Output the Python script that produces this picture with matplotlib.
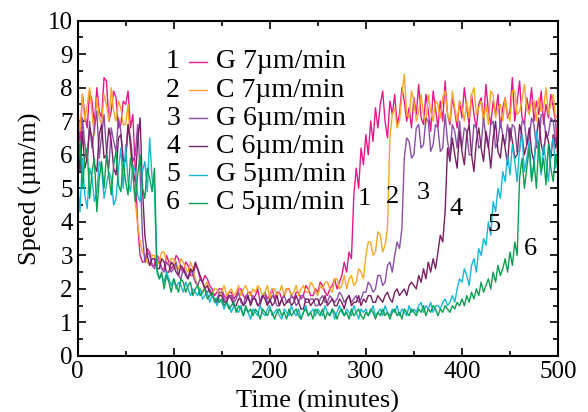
"""
Speed vs time for the six growth runs
"""

import numpy as np
import matplotlib
matplotlib.use("Agg")
import matplotlib.pyplot as plt
from matplotlib.ticker import MultipleLocator

plt.rcParams['font.family'] = ['Liberation Serif', 'DejaVu Serif']

## Data (2.5 minute steps)

time = np.arange(0, 500.1, 2.5)

labels = ["G 7µm/min", "C 7µm/min", "G 6µm/min", "C 6µm/min", "G 5µm/min", "C 5µm/min"]
colors = ["#e8178a", "#f9a825", "#8b4fa6", "#7a1f62", "#17b8d6", "#0aa050"]

g7 = [7.0, 6.4, 7.8, 7.2, 6.8, 7.9, 7.6, 6.9, 8.0, 7.3, 7.1, 8.3, 8.2, 7.0, 7.3, 7.9, 7.7, 6.8, 6.9, 7.6,
      7.5, 7.9, 6.8, 7.2, 5.5, 3.9, 3.0, 2.8, 2.8, 3.2, 3.1, 2.7, 2.7, 3.0, 2.9, 2.6, 2.6, 3.0, 2.8, 2.6,
      2.7, 3.0, 2.9, 2.6, 2.5, 2.8, 2.7, 2.4, 2.4, 2.7, 2.6, 2.3, 2.2, 2.4, 2.3, 2.1, 2.0, 1.8, 1.9, 2.0,
      2.0, 1.8, 1.7, 1.9, 1.9, 1.7, 1.8, 2.0, 2.0, 1.8, 1.7, 1.9, 1.9, 1.7, 1.8, 2.0, 1.6, 1.8, 1.9, 1.7,
      1.8, 2.0, 1.7, 1.9, 1.9, 1.7, 1.8, 2.0, 2.0, 1.8, 1.7, 1.9, 1.9, 1.7, 1.8, 2.1, 2.0, 1.8, 1.8, 2.0,
      1.9, 2.2, 2.1, 1.9, 1.8, 2.0, 2.1, 2.3, 2.0, 2.2, 2.4, 2.8, 2.5, 3.1, 2.9, 4.8, 5.6, 5.0, 6.2, 5.7,
      6.6, 6.0, 7.0, 6.4, 7.4, 6.8, 7.5, 7.9, 7.0, 6.5, 7.6, 7.2, 7.8, 6.9, 7.2, 8.0, 7.6, 7.0, 7.4, 6.8,
      7.7, 7.2, 8.1, 7.1, 6.9, 7.8, 7.3, 6.7, 7.9, 7.4, 6.8, 7.6, 7.0, 8.2, 7.2, 6.9, 7.7, 7.3, 6.8, 7.6,
      7.1, 8.0, 7.4, 6.9, 7.8, 7.2, 6.8, 7.5, 7.7, 7.0, 8.1, 7.3, 6.9, 7.6, 7.2, 7.8, 6.8, 7.4, 7.7, 7.1,
      7.3, 8.3, 7.0, 7.6, 8.2, 7.1, 6.9, 7.7, 7.3, 8.0, 7.0, 7.6, 7.2, 7.9, 6.9, 7.5, 7.1, 7.8, 7.4, 7.0,
      5.8]
c7 = [7.4, 6.7, 7.8, 7.0, 7.5, 8.0, 7.2, 6.6, 7.7, 7.1, 6.9, 7.8, 7.5, 7.0, 8.0, 7.3, 7.0, 7.6, 7.4, 6.9,
      6.9, 7.5, 6.2, 5.4, 4.6, 3.9, 3.4, 3.1, 3.0, 2.8, 2.7, 3.0, 3.0, 2.7, 2.8, 3.1, 3.1, 2.8, 2.7, 2.9,
      2.9, 2.6, 2.6, 2.9, 2.8, 2.6, 2.5, 2.8, 2.6, 2.3, 2.1, 2.0, 1.9, 2.1, 2.2, 1.9, 1.8, 2.0, 2.0, 1.8,
      1.9, 2.1, 1.8, 1.9, 2.0, 1.8, 1.9, 2.1, 1.8, 2.0, 2.1, 1.9, 1.8, 2.0, 1.9, 2.1, 2.0, 1.8, 1.9, 2.1,
      1.7, 2.0, 2.0, 1.8, 1.9, 2.1, 1.8, 2.0, 2.0, 1.8, 1.9, 2.1, 1.8, 2.0, 2.1, 1.9, 1.9, 2.2, 2.1, 1.9,
      1.8, 2.1, 2.0, 2.2, 2.2, 2.0, 1.9, 2.3, 2.3, 2.0, 2.1, 2.4, 2.0, 2.3, 2.4, 2.1, 2.2, 2.6, 2.5, 2.3,
      3.0, 3.4, 3.4, 3.0, 3.1, 3.7, 3.6, 3.1, 3.3, 3.8, 6.5, 7.2, 7.4, 6.8, 7.0, 7.8, 8.4, 7.2, 7.1, 7.9,
      7.6, 7.0, 7.3, 7.8, 7.2, 6.9, 7.8, 7.3, 7.0, 7.6, 7.5, 7.1, 7.7, 7.9, 7.2, 7.0, 7.9, 7.4, 7.0, 7.6,
      7.4, 7.0, 7.6, 7.1, 7.8, 8.0, 7.2, 7.4, 7.6, 7.0, 7.5, 6.9, 7.9, 7.8, 7.1, 7.4, 7.5, 7.0, 7.7, 7.2,
      7.0, 7.9, 7.9, 7.2, 7.3, 7.6, 8.1, 7.4, 7.2, 7.6, 7.6, 7.0, 7.7, 7.3, 7.4, 8.0, 7.2, 7.5, 7.8, 7.1,
      7.2]
g6 = [6.5, 5.7, 7.1, 6.3, 5.8, 7.0, 6.2, 6.8, 7.3, 5.9, 6.6, 7.2, 6.1, 5.6, 6.8, 6.4, 6.1, 7.1, 6.7, 5.8,
      5.9, 6.9, 6.5, 5.8, 6.0, 6.9, 5.5, 3.6, 2.8, 3.1, 3.0, 2.7, 2.6, 2.9, 2.8, 2.6, 2.5, 2.8, 2.7, 2.5,
      2.6, 2.8, 2.4, 2.3, 2.6, 2.5, 2.3, 2.6, 2.4, 2.2, 2.1, 2.3, 2.2, 2.0, 1.9, 2.0, 1.8, 1.7, 1.7, 1.9,
      1.9, 1.7, 1.6, 1.8, 1.8, 1.6, 1.7, 1.9, 1.6, 1.5, 1.8, 1.7, 1.6, 1.8, 1.7, 1.5, 1.5, 1.8, 1.8, 1.6,
      1.6, 1.8, 1.7, 1.5, 1.5, 1.7, 1.8, 1.6, 1.6, 1.8, 1.7, 1.5, 1.6, 1.8, 1.8, 1.6, 1.6, 1.7, 1.7, 1.5,
      1.5, 1.7, 1.8, 1.6, 1.6, 1.8, 1.7, 1.6, 1.7, 1.9, 1.8, 1.6, 1.7, 1.8, 1.6, 1.7, 1.8, 1.6, 1.7, 1.9,
      1.9, 2.2, 2.1, 1.9, 2.0, 2.4, 2.4, 2.1, 2.2, 2.7, 2.8, 2.5, 3.0, 3.4, 3.2, 3.8, 5.9, 6.5, 6.4, 5.9,
      6.0, 6.8, 6.9, 6.2, 6.3, 7.1, 7.0, 6.1, 6.3, 6.9, 6.8, 6.1, 6.2, 7.2, 6.4, 6.0, 6.9, 6.7, 6.2, 7.0,
      6.2, 6.8, 6.7, 6.0, 6.0, 6.9, 6.8, 6.2, 6.3, 7.1, 6.5, 6.2, 6.9, 7.0, 6.2, 6.4, 7.0, 6.6, 6.3, 6.9,
      6.4, 6.9, 6.8, 6.1, 6.1, 7.0, 7.0, 6.3, 6.5, 7.1, 6.9, 6.2, 6.3, 7.2, 7.2, 6.5, 6.6, 7.1, 7.0, 6.4,
      6.4]
c6 = [6.2, 5.5, 6.7, 5.6, 5.9, 6.8, 6.5, 5.7, 5.5, 6.6, 6.9, 5.9, 6.0, 6.8, 6.4, 5.6, 5.4, 6.5, 6.6, 5.8,
      5.8, 6.9, 6.3, 5.5, 5.2, 6.4, 7.1, 5.0, 3.6, 3.0, 2.7, 2.9, 2.9, 2.6, 2.6, 2.9, 2.8, 2.5, 2.5, 2.8,
      2.7, 2.5, 2.4, 2.7, 2.6, 2.4, 2.3, 2.6, 2.5, 2.8, 2.6, 2.4, 2.2, 2.0, 2.1, 1.9, 1.8, 1.7, 1.6, 1.8,
      1.8, 1.6, 1.6, 1.8, 1.7, 1.5, 1.5, 1.7, 1.7, 1.5, 1.6, 1.8, 1.5, 1.7, 1.7, 1.5, 1.6, 1.8, 1.7, 1.5,
      1.7, 1.5, 1.6, 1.8, 1.5, 1.7, 1.5, 1.6, 1.7, 1.5, 1.6, 1.8, 1.6, 1.4, 1.4, 1.7, 1.7, 1.5, 1.6, 1.7,
      1.7, 1.5, 1.6, 1.8, 1.5, 1.6, 1.7, 1.5, 1.5, 1.7, 1.6, 1.4, 1.7, 1.8, 1.5, 1.6, 1.6, 1.8, 1.5, 1.7,
      1.6, 1.8, 1.8, 1.6, 1.6, 1.8, 1.7, 1.6, 1.8, 1.9, 1.7, 1.6, 1.9, 2.0, 1.8, 1.9, 2.0, 1.8, 2.1, 2.2,
      2.1, 2.0, 2.4, 2.2, 2.6, 2.3, 2.8, 2.5, 2.9, 2.6, 3.1, 3.6, 3.4, 4.3, 6.2, 5.8, 6.5, 6.0, 5.6, 6.7,
      6.1, 5.7, 6.6, 6.9, 6.0, 5.5, 6.4, 6.8, 6.2, 5.8, 6.7, 6.3, 5.6, 6.5, 7.0, 6.1, 5.9, 6.6, 6.2, 5.7,
      6.8, 6.4, 5.9, 6.0, 6.9, 6.6, 6.0, 6.3, 6.8, 6.1, 5.8, 6.5, 7.1, 6.3, 6.0, 6.7, 6.4, 5.9, 6.6, 6.2,
      6.6]
g5 = [5.2, 4.3, 5.9, 4.8, 4.4, 5.6, 5.3, 4.6, 4.9, 5.8, 5.6, 4.7, 5.1, 5.5, 5.3, 4.5, 4.7, 5.6, 6.2, 5.0,
      6.3, 5.2, 4.9, 5.7, 5.5, 4.8, 4.6, 5.5, 5.8, 4.9, 6.5, 5.3, 5.0, 2.5, 2.3, 2.4, 2.2, 2.5, 2.3, 2.1,
      2.3, 2.0, 2.2, 2.1, 1.9, 2.2, 2.0, 1.8, 2.0, 1.9, 1.8, 2.0, 1.7, 1.8, 1.9, 1.6, 1.8, 1.7, 1.5, 1.7,
      1.6, 1.4, 1.6, 1.5, 1.3, 1.5, 1.4, 1.3, 1.5, 1.2, 1.4, 1.3, 1.1, 1.4, 1.3, 1.2, 1.5, 1.3, 1.2, 1.4,
      1.5, 1.2, 1.3, 1.4, 1.2, 1.1, 1.4, 1.3, 1.2, 1.5, 1.3, 1.2, 1.4, 1.1, 1.3, 1.5, 1.2, 1.3, 1.4, 1.2,
      1.4, 1.3, 1.2, 1.5, 1.3, 1.2, 1.4, 1.1, 1.3, 1.5, 1.3, 1.2, 1.4, 1.3, 1.2, 1.5, 1.3, 1.1, 1.4, 1.3,
      1.4, 1.2, 1.3, 1.5, 1.2, 1.3, 1.4, 1.2, 1.5, 1.3, 1.2, 1.4, 1.3, 1.5, 1.2, 1.4, 1.3, 1.2, 1.5, 1.3,
      1.4, 1.3, 1.5, 1.6, 1.3, 1.5, 1.4, 1.6, 1.3, 1.5, 1.5, 1.4, 1.6, 1.7, 1.5, 1.6, 1.8, 1.6, 2.0, 2.3,
      2.2, 2.6, 2.4, 2.1, 2.7, 2.9, 2.5, 3.2, 3.0, 3.5, 3.3, 4.0, 3.6, 4.6, 4.3, 5.0, 4.7, 5.5, 5.2, 6.0,
      5.4, 6.3, 5.8, 5.2, 6.2, 6.6, 5.5, 5.9, 6.4, 5.3, 5.7, 6.7, 6.0, 5.4, 6.3, 5.8, 5.2, 6.1, 6.5, 5.6,
      6.1]
c5 = [5.6, 6.4, 5.0, 5.9, 6.2, 4.7, 5.5, 5.9, 4.3, 5.3, 5.8, 5.0, 6.0, 5.4, 4.8, 5.7, 6.1, 5.1, 4.9, 5.8,
      5.2, 4.8, 5.9, 5.5, 4.6, 5.4, 6.0, 5.0, 4.7, 5.6, 5.3, 4.9, 5.6, 2.6, 2.3, 2.5, 2.0, 2.4, 2.2, 1.9,
      2.3, 2.1, 1.9, 2.3, 2.2, 1.9, 2.1, 2.2, 1.8, 2.0, 2.1, 1.8, 1.9, 2.0, 1.7, 1.8, 1.9, 1.6, 1.7, 1.6,
      1.7, 1.5, 1.6, 1.4, 1.5, 1.6, 1.3, 1.5, 1.4, 1.2, 1.5, 1.3, 1.4, 1.2, 1.4, 1.3, 1.1, 1.4, 1.3, 1.2,
      1.4, 1.3, 1.1, 1.3, 1.4, 1.2, 1.3, 1.1, 1.4, 1.2, 1.3, 1.4, 1.2, 1.1, 1.3, 1.4, 1.2, 1.3, 1.1, 1.4,
      1.3, 1.2, 1.4, 1.1, 1.3, 1.2, 1.4, 1.3, 1.1, 1.3, 1.4, 1.2, 1.3, 1.1, 1.4, 1.2, 1.3, 1.4, 1.2, 1.1,
      1.3, 1.2, 1.4, 1.3, 1.1, 1.3, 1.2, 1.4, 1.2, 1.3, 1.1, 1.3, 1.4, 1.2, 1.3, 1.1, 1.4, 1.3, 1.2, 1.4,
      1.3, 1.2, 1.4, 1.3, 1.5, 1.2, 1.4, 1.3, 1.5, 1.4, 1.2, 1.4, 1.3, 1.5, 1.4, 1.3, 1.5, 1.4, 1.6, 1.5,
      1.7, 1.5, 1.8, 1.6, 1.9, 1.7, 2.0, 1.8, 2.2, 1.9, 2.1, 2.3, 2.0, 2.5, 2.2, 2.7, 2.4, 2.6, 2.9, 2.5,
      3.1, 2.7, 3.4, 3.0, 5.3, 5.9, 5.0, 5.6, 6.2, 5.2, 5.8, 5.0, 6.4, 5.5, 5.9, 5.1, 6.3, 5.6, 5.2, 6.0,
      5.6]

series = [g7, c7, g6, c6, g5, c5]

# where the run numbers sit next to the curves
curve_tag_x = [298, 328, 360, 394, 433, 471]
curve_tag_y = [4.68, 4.74, 4.86, 4.38, 3.9, 3.19]

## Plot

fig = plt.figure(figsize=(5.88, 4.12), dpi=100)
ax = fig.add_axes([0.132, 0.136, 0.817, 0.814])

for i, vals in enumerate(series):
    ax.plot(time, vals, color=colors[i], lw=1.0)

# legend drawn by hand: "n  --  label"
for i in range(len(series)):
    yy = 0.877 - i * 0.084
    ax.text(0.213, yy, str(i + 1), transform=ax.transAxes, ha="right", va="center", fontsize=20)
    ax.plot([0.232, 0.269], [yy, yy], transform=ax.transAxes, color=colors[i], lw=1.0)
    ax.text(0.288, yy, labels[i], transform=ax.transAxes, ha="left", va="center", fontsize=20)

for i in range(len(series)):
    ax.text(curve_tag_x[i], curve_tag_y[i], str(i + 1), ha="center", va="center", fontsize=19)

ax.set_xlim(0, 500)
ax.set_ylim(0, 10)
ax.xaxis.set_major_locator(MultipleLocator(100))
ax.xaxis.set_minor_locator(MultipleLocator(50))
ax.yaxis.set_major_locator(MultipleLocator(1))
ax.yaxis.set_minor_locator(MultipleLocator(0.5))
ax.tick_params(which="both", direction="in", top=True, right=True, labelsize=18, width=1.2)
ax.tick_params(which="major", length=6)
ax.tick_params(which="minor", length=3.5)
for sp in ax.spines.values():
    sp.set_linewidth(1.5)

ax.set_xlabel("Time (minutes)", fontsize=19, labelpad=5)
ax.set_ylabel("Speed (µm/m)", fontsize=19, labelpad=4)

fig.savefig("out.png", dpi=100)
